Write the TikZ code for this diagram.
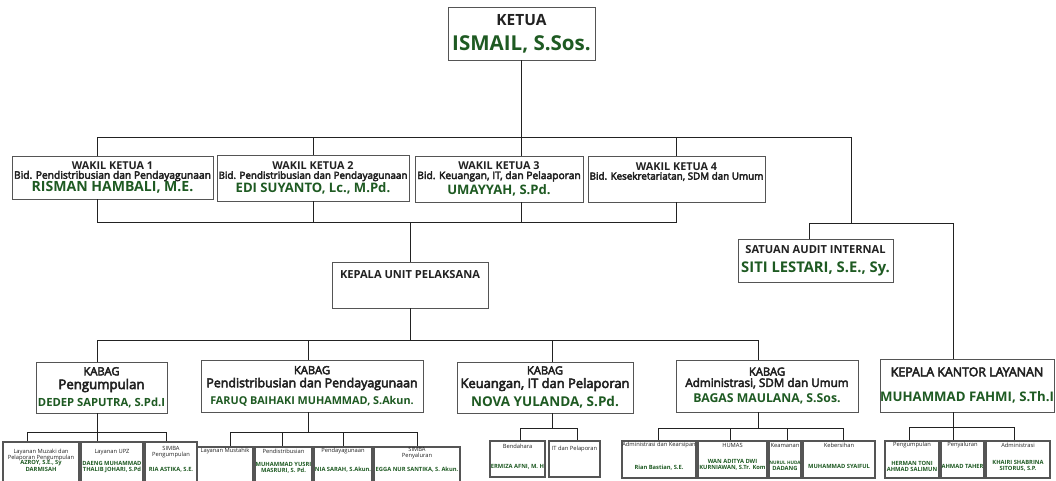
\documentclass[tikz,border=0pt]{standalone}
\usepackage{fontspec}
\setmainfont{Open Sans}
\newfontfamily\medfont[FakeBold=4]{Open Sans}
\usetikzlibrary{positioning, calc}
\definecolor{ink}{HTML}{222222}
\definecolor{frame}{HTML}{555555}
\definecolor{namegreen}{HTML}{1E5A22}

\newcommand{\boxhd}[2]{{\fontsize{#1}{#1}\selectfont\bfseries #2}}
\newcommand{\boxsd}[2]{{\medfont\fontsize{#1}{#1}\selectfont #2}}
\newcommand{\boxnm}[2]{{\fontsize{#1}{#1}\selectfont\bfseries\color{namegreen}#2}}

\tikzset{
  box/.style={draw=frame, line width=0.6pt, fill=white, inner sep=0pt, align=center,
              font=\fontsize{6}{6.5}\selectfont, text=ink},
  link/.style={draw=ink, line width=0.6pt},
  unit/.style={draw=frame, line width=0.8pt, fill=white, inner sep=0pt},
  unitlbl/.style={inner sep=0pt, align=center, text=ink,
                  font=\fontsize{4.1}{4.5}\selectfont},
  unitname/.style={inner sep=0pt, align=center, text=namegreen,
                   font=\fontsize{4.1}{4.5}\selectfont\bfseries},
}

\begin{document}
\begin{tikzpicture}[x=0.25mm, y=-0.25mm]
  \clip (0,0) rectangle (1056,480);
  \fill[white] (0,0) rectangle (1056,480);

  % Ketua
  \node[box, minimum width=36.75mm, minimum height=13.25mm] (ketua) at (521.5,33.5)
       {\boxhd{11}{KETUA}\\[6pt]\boxnm{14.6}{ISMAIL, S.Sos.}};

  % Wakil ketua
  \node[box, minimum width=50.25mm, minimum height=10.75mm] (wk1) at (112.5,177.5)
       {\boxhd{7.7}{WAKIL KETUA 1}\\\boxsd{7.3}{Bid. Pendistribusian dan Pendayagunaan}\\[-1pt]\boxnm{10}{RISMAN HAMBALI, M.E.}};
  \node[box, minimum width=48mm, minimum height=11.5mm] (wk2) at (313,178)
       {\boxhd{7.7}{WAKIL KETUA 2}\\\boxsd{7}{Bid. Pendistribusian dan Pendayagunaan}\\[0pt]\boxnm{9.3}{EDI SUYANTO, Lc., M.Pd.}};
  \node[box, minimum width=42mm, minimum height=11.5mm] (wk3) at (499,179)
       {\boxhd{7.7}{WAKIL KETUA 3}\\\boxsd{7.3}{Bid. Keuangan, IT, dan Pelaaporan}\\[1pt]\boxnm{9.3}{UMAYYAH, S.Pd.}};
  \node[box, minimum width=44.25mm, minimum height=11.5mm] (wk4) at (676.5,179)
       {\boxhd{7.7}{WAKIL KETUA 4}\\\boxsd{7}{Bid. Kesekretariatan, SDM dan Umum}\\[1pt]\boxnm{9.3}{\phantom{UMAYYAH, S.Pd.}}};

  % Kepala unit & audit
  \node[box, minimum width=39mm, minimum height=11.5mm] (kup) at (410,285)
       {\boxhd{7.9}{KEPALA UNIT PELAKSANA}\\[7pt]\boxnm{9}{\phantom{X}}};
  \node[box, minimum width=38.75mm, minimum height=10.75mm] (aud) at (815.5,260.5)
       {\boxhd{7.9}{SATUAN AUDIT INTERNAL}\\[5pt]\boxnm{10.5}{SITI LESTARI, S.E., Sy.}};

  % Kabag
  \node[box, minimum width=32.75mm, minimum height=12.75mm] (kb1) at (101.5,387.5)
       {\boxsd{8}{KABAG}\\[1.5pt]\boxsd{9.4}{Pengumpulan}\\[3pt]\boxnm{8}{DEDEP SAPUTRA, S.Pd.I}};
  \node[box, minimum width=55.5mm, minimum height=13mm] (kb2) at (312,386)
       {\boxsd{8}{KABAG}\\[1.5pt]\boxsd{8.8}{Pendistribusian dan Pendayagunaan}\\[3pt]\boxnm{7.7}{FARUQ BAIHAKI MUHAMMAD, S.Akun.}};
  \node[box, minimum width=44mm, minimum height=12.75mm] (kb3) at (545,387.5)
       {\boxsd{8}{KABAG}\\[1.5pt]\boxsd{9.2}{Keuangan, IT dan Pelaporan}\\[3pt]\boxnm{9.6}{NOVA YULANDA, S.Pd.}};
  \node[box, minimum width=45.5mm, minimum height=13mm] (kb4) at (767,386)
       {\boxsd{8}{KABAG}\\[1.5pt]\boxsd{8.3}{Administrasi, SDM dan Umum}\\[3pt]\boxnm{8.7}{BAGAS MAULANA, S.Sos.}};
  \node[box, minimum width=43mm, minimum height=13.25mm] (kkl) at (967,385.5)
       {\boxsd{8.8}{KEPALA KANTOR LAYANAN}\\[10pt]\boxnm{9.4}{MUHAMMAD FAHMI, S.Th.I}};

  % Units
  \foreach \n/\xa/\xb/\ya/\yb/\ly/\lbl/\py/\who in {
      s11/3/79/442/500/455/{Layanan Muzaki dan\\Pelaporan Pengumpulan}/466/{AZROY, S.E., Sy\\DARMISAH},
      s12/81/143/442/500/452/{Layanan UPZ}/467/{DAENG MUHAMMAD\\THALIB JOHARI, S.Pd},
      s13/145/197/442/500/452/{SIMBA\\Pengumpulan}/470/{RIA ASTIKA, S.E.},
      s21/197/253/447/500/451/{Layanan Mustahik}/470/{},
      s22/255/312/447/500/451/{Pendistribusian}/468/{MUHAMMAD YUSRI\\MASRURI, S. Pd.},
      s23/314/372/447/500/451/{Pendayagunaan}/470/{NIA SARAH, S.Akun.},
      s24/374/460/447/500/453/{SIMBA\\Penyaluran}/470/{EGGA NUR SANTIKA, S. Akun.},
      s31/490/545/441/477/446/{Bendahara}/467/{ERMIZA AFNI, M. H},
      s32/549/600/441/477/449/{IT dan Pelaporan}/467/{},
      s41/622/696/441/478/445/{Administrasi dan Kearsipan}/468/{Rian Bastian, S.E.},
      s42/698/767/441/478/445/{HUMAS}/465/{WAN ADITYA DWI\\KURNIAWAN, S.Tr. Kom},
      s43/769/801/441/478/445/{Keamanan}/466/{\fontsize{3.3}{4.3}\selectfont NURUL HUDA\\DADANG},
      s44/803/875/441/478/445/{Kebersihan}/466/{MUHAMMAD SYAIFUL},
      s51/885/939/441/478/445/{Pengumpulan}/466.5/{HERMAN TONI\\AHMAD SALIMUN},
      s52/941/984/441/478/445/{Penyaluran}/466/{AHMAD TAHER},
      s53/986/1050/441/478/445/{Administrasi}/466/{KHAIRI SHABRINA\\SITORUS, S.P.}} {
    \node[unit, minimum width={(\xb-\xa)*0.25mm}, minimum height={(\yb-\ya)*0.25mm}]
         (\n) at ({(\xa+\xb)/2},{(\ya+\yb)/2}) {};
    \node[unitlbl] (\n-l) at ({(\xa+\xb)/2},\ly) {\lbl};
    \node[unitname] (\n-p) at ({(\xa+\xb)/2},\py) {\who};
  }

  % Connectors
  \coordinate (busW) at (97,137);
  \coordinate (turnA) at (851,137);
  \coordinate (busD) at (97,222);
  \coordinate (busK) at (97,340);
  \coordinate (busA) at (809,223);
  \coordinate (busB) at (953,223);

  \draw[link] (ketua.south) -- (ketua.south |- wk3.north);
  \draw[link] (busW |- wk1.north) -- (busW) -- (turnA) -- (turnA |- busA);
  \draw[link] (wk2.north) -- (wk2.north |- busW);
  \draw[link] (wk4.north) -- (wk4.north |- busW);

  \draw[link] (busD |- wk1.south) -- (busD) -- (busD -| wk4.south) -- (wk4.south);
  \draw[link] (wk2.south) -- (wk2.south |- busD);
  \draw[link] (ketua.south |- wk3.south) -- (ketua.south |- busD);
  \draw[link] (kup.north) -- (kup.north |- busD);
  \draw[link] (kup.south) -- (kup.south |- busK);

  \draw[link] (aud.north -| busA) -- (busA) -- (busB) -- (busB |- kkl.north);

  \draw[link] (busK) -- (758,340);
  \foreach \x/\n in {97/kb1, 308/kb2, 552/kb3, 758/kb4}
    \draw[link] (\x,340) -- (\x,340 |- \n.north);

  \foreach \p/\x/\y/\l/\r in {kb1/97/432/27/166, kb2/308/432/230/417, kb3/552/428/520/577,
                              kb4/758/428/658/843, kkl/953/427/909/1014} {
    \draw[link] (\x,\y |- \p.south) -- (\x,\y);
    \draw[link] (\l,\y) -- (\r,\y);
  }
  \foreach \x/\y/\n in {27/432/s11, 97/432/s12, 166/432/s13, 230/432/s21, 282/432/s22,
                        343/432/s23, 417/432/s24, 520/428/s31, 577/428/s32, 658/428/s41,
                        730/428/s42, 787/428/s43, 843/428/s44, 909/427/s51, 953/427/s52,
                        1014/427/s53}
    \draw[link] (\x,\y) -- (\x,\y |- \n.north);
\end{tikzpicture}
\end{document}
